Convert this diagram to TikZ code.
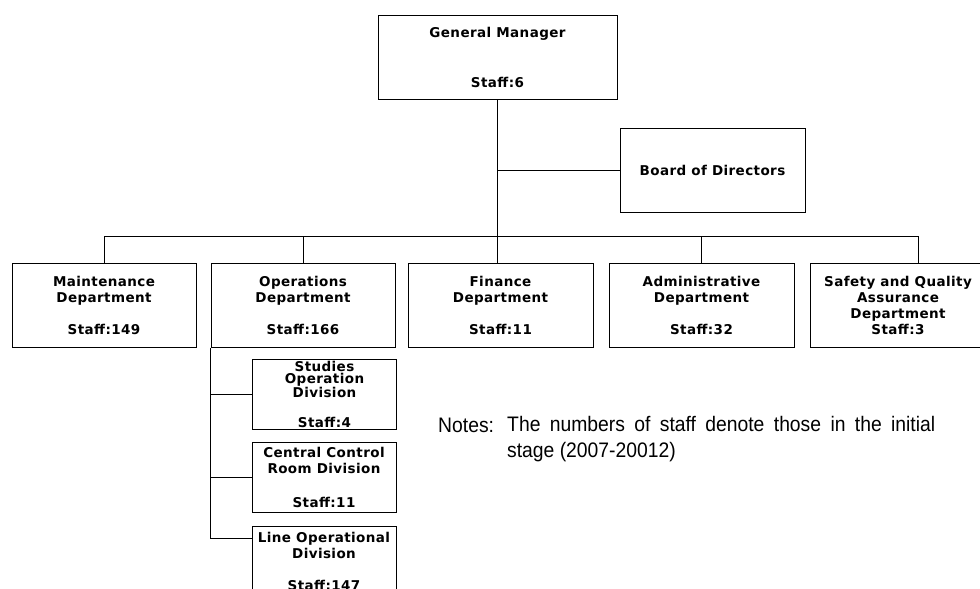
\documentclass[tikz,border=0pt]{standalone}
\usepackage{fontspec}
\usepackage{tikz}
\usetikzlibrary{positioning, calc}
\newfontfamily\boxfont{DejaVu Sans}[LetterSpace=3]
\newfontfamily\notefont{Liberation Sans}[FakeStretch=0.92]
\tikzstyle{link} = [line width=1pt, black]

\begin{document}
\begin{tikzpicture}[
    x=1pt, y=-1pt,
    unit/.style={rectangle, draw=black, line width=1pt, fill=white,
                 align=center, inner sep=0pt,
                 font=\boxfont\bfseries\fontsize{13.5}{16}\selectfont},
    dept/.style={unit, minimum width=185pt, minimum height=84pt},
    division/.style={unit, minimum width=144pt, minimum height=70pt},
    note/.style={font=\notefont\fontsize{21}{26}\selectfont, inner sep=0pt}
]
\useasboundingbox (0,0) rectangle (980,589);
\clip (0,0) rectangle (980,589);

% Top level
\node[unit, minimum width=239pt, minimum height=84pt] (gm) at (497.5,57)
    {General Manager\\[34pt]Staff:6};
\node[unit, minimum width=185pt, minimum height=84pt] (board) at (712.5,170)
    {Board of Directors};

% Departments
\node[dept, minimum width=184pt] (maint) at (104,305)
    {Maintenance\\Department\\[16pt]Staff:149};
\node[dept, minimum width=184pt] (ops) at (303,305)
    {Operations\\Department\\[16pt]Staff:166};
\node[dept] (fin) at (500.5,305)
    {Finance\\Department\\[16pt]Staff:11};
\node[dept] (admin) at (701.5,305)
    {Administrative\\Department\\[16pt]Staff:32};
\node[dept, minimum width=176pt] (safety) at (898,305)
    {Safety and Quality\\Assurance\\Department\\Staff:3};

% Divisions of operations
\node[division, font=\boxfont\bfseries\fontsize{13.5}{12}\selectfont] (studies) at (324.5,394)
    {Studies\\Operation\\Division\\[18pt]Staff:4};
\node[division] (ccr) at (324,477.5)
    {Central Control\\Room Division\\[18pt]Staff:11};
\node[division] (lineop) at (324,561)
    {Line Operational\\Division\\[16pt]Staff:147};

% Joins
\coordinate (bar) at (0,236);
\coordinate (sqdrop) at (918,0);
\coordinate (lo-join) at ($(lineop.north west)+(0,13)$);

% Connectors
\draw[link] (gm.south) -- (gm.south |- fin.north);
\draw[link] (board.west) -- (board.west -| gm.south);
\draw[link] (maint.north |- bar) -- (sqdrop |- bar);
\draw[link] (maint.north) -- (maint.north |- bar);
\draw[link] (ops.north) -- (ops.north |- bar);
\draw[link] (admin.north) -- (admin.north |- bar);
\draw[link] (safety.north -| sqdrop) -- (sqdrop |- bar);
\draw[link] (ops.south west) -- (ops.south west |- lo-join);
\draw[link] (studies.west) -- (studies.west -| ops.south west);
\draw[link] (ccr.west) -- (ccr.west -| ops.south west);
\draw[link] (lo-join) -- (lo-join -| ops.south west);

% Notes
\node[note, anchor=base west] (notes) at (438,432) {Notes:};
\node[note, anchor=north west, text width=428pt, align=justify] (notetext)
    at (507,416) {The numbers of staff denote those in the initial stage (2007-20012)};
\end{tikzpicture}
\end{document}
